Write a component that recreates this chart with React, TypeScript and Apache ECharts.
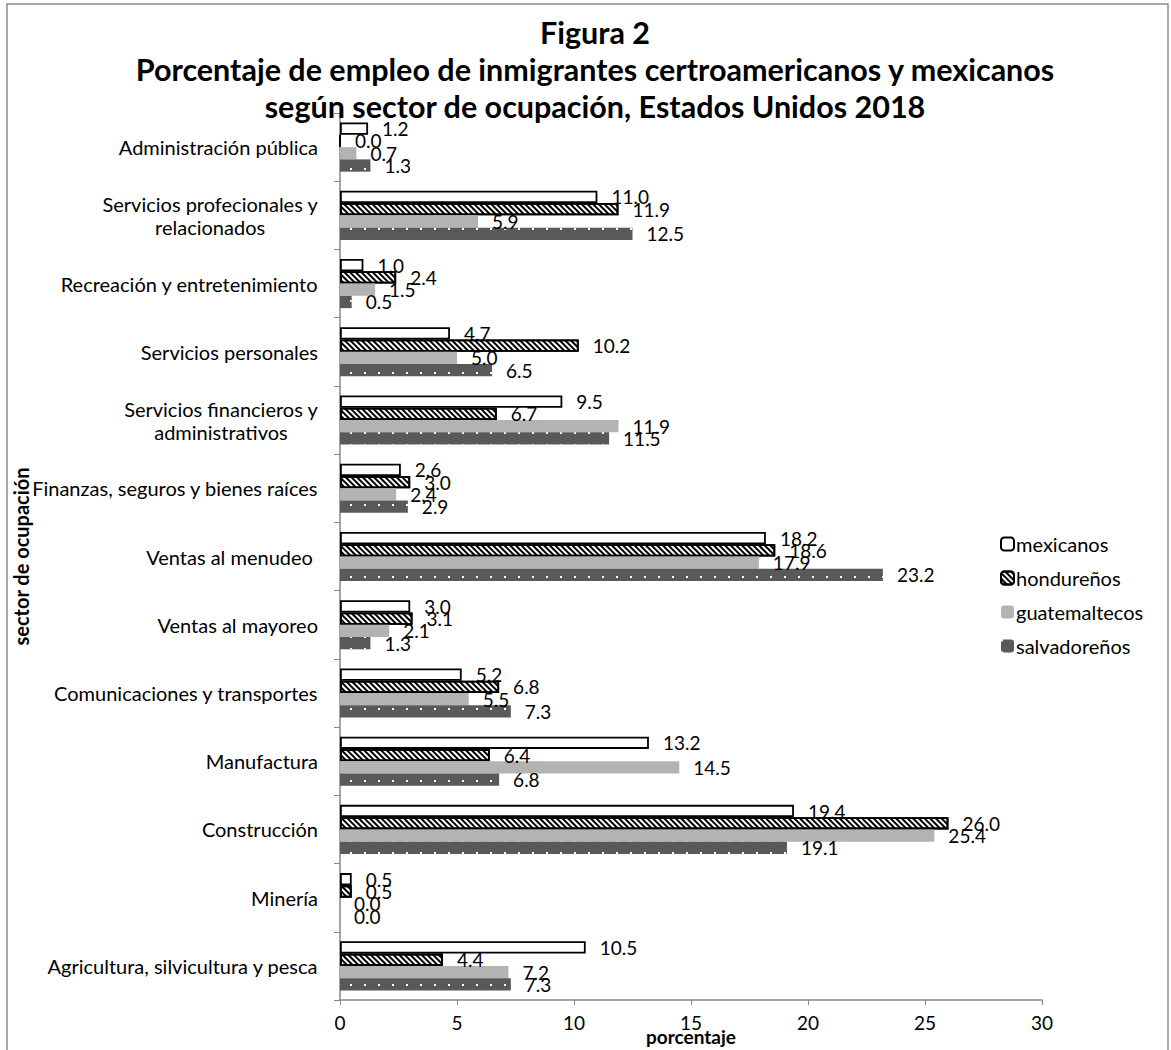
import React, { useEffect, useRef } from "react";
import * as echarts from "echarts";

const categories = [
  "Agricultura, silvicultura y pesca",
  "Minería",
  "Construcción",
  "Manufactura",
  "Comunicaciones y transportes",
  "Ventas al mayoreo",
  "Ventas al menudeo ",
  "Finanzas, seguros y bienes raíces",
  "Servicios financieros y\nadministrativos",
  "Servicios personales",
  "Recreación y entretenimiento",
  "Servicios profecionales y\nrelacionados",
  "Administración pública",
];

const mexicanos = [10.5, 0.5, 19.4, 13.2, 5.2, 3.0, 18.2, 2.6, 9.5, 4.7, 1.0, 11.0, 1.2];
const hondurenos = [4.4, 0.5, 26.0, 6.4, 6.8, 3.1, 18.6, 3.0, 6.7, 10.2, 2.4, 11.9, 0.0];
const guatemaltecos = [7.2, 0.0, 25.4, 14.5, 5.5, 2.1, 17.9, 2.4, 11.9, 5.0, 1.5, 5.9, 0.7];
const salvadorenos = [7.3, 0.0, 19.1, 6.8, 7.3, 1.3, 23.2, 2.9, 11.5, 6.5, 0.5, 12.5, 1.3];

const seriesNames = ["mexicanos", "hondureños", "guatemaltecos", "salvadoreños"];
const xTicks = [0, 5, 10, 15, 20, 25, 30];

const FONT = "Lato, 'Open Sans', sans-serif";

export default function App() {
  const ref = useRef<HTMLDivElement>(null);
  useEffect(() => {
    if (!ref.current) return;
    const chart = echarts.init(ref.current, null, { renderer: "svg" });
    const label = {
      show: true,
      position: "right" as const,
      distance: 14,
      fontSize: 19,
      fontFamily: FONT,
      color: "#000",
      formatter: (p: any) => Number(p.value).toFixed(1),
    };
    const common = {
      type: "bar" as const,
      barGap: "0%",
      barCategoryGap: "28%",
      label,
    };
    chart.setOption({
      animation: false,
      backgroundColor: "#fff",
      textStyle: { fontFamily: FONT },
      title: {
        text: "Figura 2\nPorcentaje de empleo de inmigrantes certroamericanos y mexicanos\nsegún sector de ocupación, Estados Unidos 2018",
        left: 590,
        textAlign: "center",
        top: 8,
        textStyle: { fontSize: 30.5, fontWeight: "bold", lineHeight: 37, color: "#000", fontFamily: FONT },
      },
      legend: {
        orient: "vertical",
        left: 995,
        top: 527,
        itemWidth: 13,
        itemHeight: 13,
        itemGap: 10,
        data: seriesNames,
        textStyle: { fontSize: 20, lineHeight: 24, color: "#000", fontFamily: FONT, padding: [0, 0, 0, -3] },
      },
      grid: {
        left: 340,
        right: 129,
        top: 113,
        bottom: 50,
        containLabel: false,
        outerBoundsMode: "none",
      },
      xAxis: {
        type: "value",
        min: 0,
        max: 30,
        interval: 5,
        name: "porcentaje",
        nameLocation: "middle",
        nameGap: 27,
        nameMoveOverlap: false,
        nameTextStyle: { fontSize: 19, fontWeight: "bold", color: "#000", fontFamily: FONT, verticalAlign: "top", lineHeight: 19 },
        axisLine: { show: true, lineStyle: { color: "#868686", width: 1.5 } },
        axisTick: { show: true, length: 5, lineStyle: { color: "#868686" } },
        splitLine: { show: false },
        axisLabel: {
          fontSize: 19,
          color: "#000",
          margin: 13,
          fontFamily: FONT,
          formatter: (v: number) => (xTicks.includes(v) ? String(v) : ""),
        },
      },
      yAxis: {
        type: "category",
        data: categories,
        name: "sector de ocupación",
        nameLocation: "middle",
        nameGap: 309,
        nameMoveOverlap: false,
        nameRotate: 90,
        nameTextStyle: { fontSize: 20, fontWeight: "bold", color: "#000", fontFamily: FONT },
        axisLine: { show: true, lineStyle: { color: "#868686", width: 1.5 } },
        axisTick: { show: true, length: 6, lineStyle: { color: "#868686" } },
        axisLabel: {
          fontSize: 20,
          color: "#000",
          margin: 22,
          fontFamily: FONT,
          formatter: (v: string) =>
            v
              .split("\n")
              .map((s) => "{c|" + s + "}")
              .join("\n"),
          rich: { c: { fontSize: 20, color: "#000", fontFamily: FONT, align: "center", lineHeight: 23 } },
        },
      },
      series: [
        {
          ...common,
          name: "mexicanos",
          data: mexicanos,
          itemStyle: { color: "#ffffff", borderColor: "#000", borderWidth: 1.8 },
        },
        {
          ...common,
          name: "hondureños",
          data: hondurenos,
          itemStyle: {
            color: "#ffffff",
            borderColor: "#000",
            borderWidth: 1.8,
            decal: {
              symbol: "rect",
              symbolSize: 1,
              color: "#000",
              dashArrayX: [1, 0],
              dashArrayY: [1.3, 2],
              rotation: Math.PI / 4,
            },
          },
        },
        {
          ...common,
          name: "guatemaltecos",
          data: guatemaltecos,
          itemStyle: { color: "#b3b3b3" },
        },
        {
          ...common,
          name: "salvadoreños",
          data: salvadorenos,
          itemStyle: {
            color: "#595959",
            decal: {
              symbol: "rect",
              symbolSize: 1,
              color: "#ffffff",
              dashArrayX: [2, 12],
              dashArrayY: [2, 10],
              rotation: 0,
            },
          },
        },
      ],
      graphic: [
        {
          type: "polyline",
          shape: { points: [[7, 1060], [7, 4], [1168, 4], [1168, 1060]] },
          style: { stroke: "#8c8c8c", lineWidth: 1.5, fill: "none" },
          silent: true,
        },
      ],
    });
    return () => chart.dispose();
  }, []);
  return (
    <div
      ref={ref}
      style={{ position: "absolute", left: 0, top: 0, width: 1171, height: 1050 }}
    />
  );
}
